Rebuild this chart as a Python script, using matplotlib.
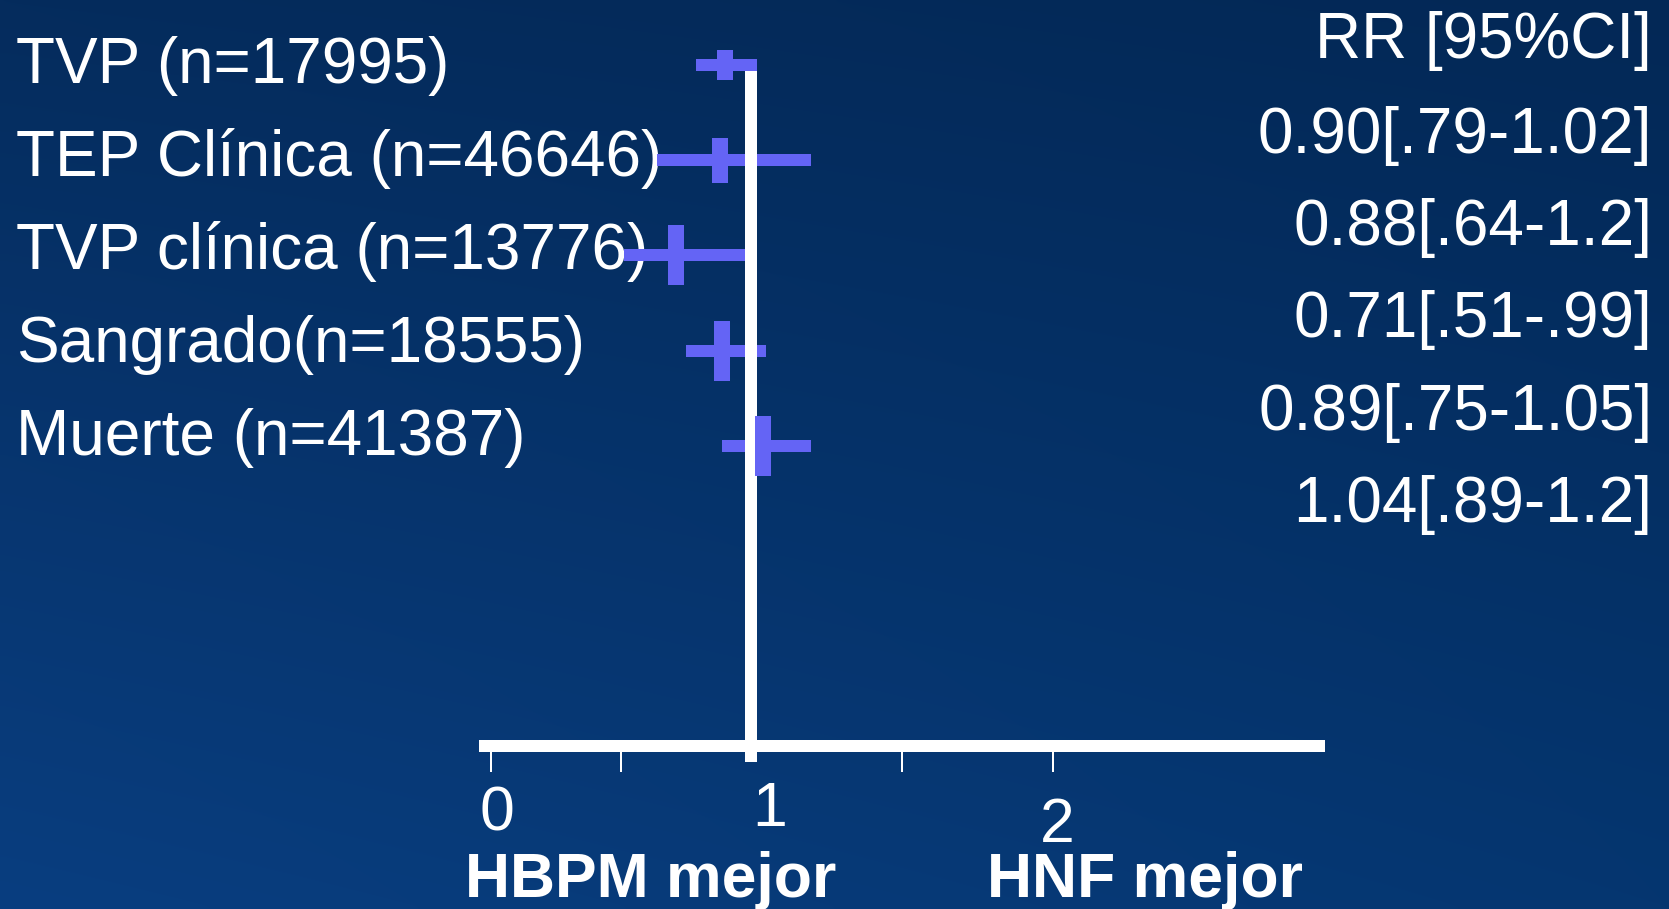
import numpy as np
import matplotlib
matplotlib.use("Agg")
import matplotlib.pyplot as plt
from matplotlib import transforms

plt.rcParams['font.family'] = ['Liberation Sans', 'DejaVu Sans']

# ---------------- data ----------------
outcomes = ["TVP (n=17995)", "TEP Clínica (n=46646)", "TVP clínica (n=13776)",
            "Sangrado(n=18555)", "Muerte (n=41387)"]
rr = [0.90, 0.88, 0.71, 0.89, 1.04]
ci_low = [0.79, 0.64, 0.51, 0.75, 0.89]
ci_high = [1.02, 1.2, 0.99, 1.05, 1.2]
ci_text = ["0.90[.79-1.02]", "0.88[.64-1.2]", "0.71[.51-.99]",
           "0.89[.75-1.05]", "1.04[.89-1.2]"]
header = "RR [95%CI]"
tick_values = [0, 0.5, 1.5, 2]
tick_labels = ["0", "1", "2"]
tick_label_values = [0, 1, 2]
ref_value = 1
favours_left = "HBPM mejor"
favours_right = "HNF mejor"

# ---------------- style ----------------
W, H = 1669, 909
DPI = 100
PT = 72.0 / DPI          # points per pixel
mark_col = "#6464F5"
txt_col = "white"
fs = 46
X0 = 491.0               # pixel of value 0
S_LO, S_HI = 260.0, 302.0  # pixels per unit below / above 1
Y0, DY = 65.0, 95.2      # pixel of row 0, pixels per row
point_h_px = [30, 45, 60, 60, 60]

fig = plt.figure(figsize=(W / DPI, H / DPI), dpi=DPI)

# background gradient
bg = fig.add_axes([0, 0, 1, 1])
yy, xx = np.mgrid[0:1:200j, 0:1:300j]
tl = np.array([5, 44, 93]); tr = np.array([3, 40, 86])
bl = np.array([9, 62, 128]); br = np.array([5, 54, 112])
img = (tl[None, None, :] * ((1 - xx) * (1 - yy))[..., None]
       + tr[None, None, :] * (xx * (1 - yy))[..., None]
       + bl[None, None, :] * ((1 - xx) * yy)[..., None]
       + br[None, None, :] * (xx * yy)[..., None]) / 255.0
bg.imshow(img, aspect='auto', extent=[0, 1, 0, 1], origin='upper', interpolation='bicubic')
bg.set_axis_off()

ax = fig.add_axes([0, 0, 1, 1])
ax.set_facecolor('none')


def fwd(x):
    x = np.asarray(x, dtype=float)
    return np.where(x < 1, x * S_LO, S_LO + (x - 1) * S_HI)


def inv(u):
    u = np.asarray(u, dtype=float)
    return np.where(u < S_LO, u / S_LO, 1 + (u - S_LO) / S_HI)


ax.set_xscale('function', functions=(fwd, inv))
ax.set_xlim(float(inv(-X0)), float(inv(W - X0)))
ax.set_ylim((H - Y0) / DY, -Y0 / DY)
ax.set_axis_off()


def py(p):  # pixel y -> row data
    return (p - Y0) / DY


def px(p):  # pixel x -> value
    return float(inv(p - X0))


rows = np.arange(len(outcomes))

# CI bars
ax.hlines(rows, ci_low, ci_high, colors=mark_col, linewidth=12 * PT, zorder=3,
          capstyle='butt')
# reference line
ax.vlines(ref_value, py(71), py(762), colors='white', linewidth=12 * PT, zorder=4)
# point estimates
for i, (r, h) in enumerate(zip(rr, point_h_px)):
    ax.vlines(r, i - h / 2 / DY, i + h / 2 / DY, colors=mark_col,
              linewidth=16 * PT, zorder=5)

# x axis
ax.hlines(py(746), px(479), px(1325), colors='white', linewidth=12 * PT, zorder=4)
ax.vlines(tick_values, py(752), py(772), colors='white', linewidth=2 * PT, zorder=4)

# tick labels
tick_dx = [6, 19, 4]
tick_base = [831, 826, 842]
for v, lab, dx, b in zip(tick_label_values, tick_labels, tick_dx, tick_base):
    ax.text(px(float(fwd(v)) + X0 + dx), py(b), lab, ha='center', va='baseline',
            color=txt_col, fontsize=45)

# left labels
lt = transforms.blended_transform_factory(fig.transFigure, ax.transData)
for i, lab in enumerate(outcomes):
    ax.text(16 / W, 0.19 + 0.977 * i, lab, transform=lt, ha='left', va='baseline',
            color=txt_col, fontsize=fs, zorder=2)

# right column
ax.text(1652 / W, py(58), header, transform=lt, ha='right', va='baseline',
        color=txt_col, fontsize=fs)
for i, lab in enumerate(ci_text):
    ax.text(1652 / W, 0.924 + 0.969 * i, lab, transform=lt, ha='right', va='baseline',
            color=txt_col, fontsize=fs)

# favours labels
fig.text(465 / W, 1 - 897 / H, favours_left, ha='left', va='baseline',
         color=txt_col, fontsize=45, fontweight='bold')
fig.text(987 / W, 1 - 897 / H, favours_right, ha='left', va='baseline',
         color=txt_col, fontsize=45, fontweight='bold')

fig.savefig("out.png", dpi=DPI)
